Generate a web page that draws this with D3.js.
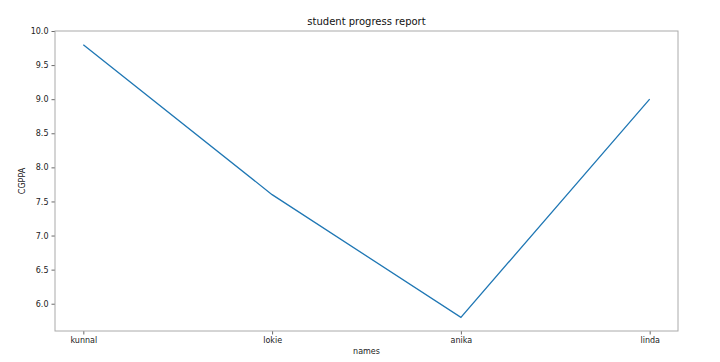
<!DOCTYPE html>
<html>
<head>
<meta charset="utf-8">
<script src="https://cdn.jsdelivr.net/npm/d3@7"></script>
<style>
  body { margin: 0; background: #fff; }
  text { font-family: "DejaVu Sans", sans-serif; }
</style>
</head>
<body>
<div id="canvas"></div>
<script>
// chart data
var names = ['kunnal', 'lokie', 'anika', 'linda'];
var cgpa = [9.8, 7.6, 5.8, 9.0];
var yTicks = [6.0, 6.5, 7.0, 7.5, 8.0, 8.5, 9.0, 9.5, 10.0];

var W = 720, H = 362;
var m = {left: 55, right: 42, top: 31, bottom: 31};

var svg = d3.select('#canvas').append('svg')
  .attr('width', W)
  .attr('height', H);

// matplotlib style 5% margins
var x = d3.scaleLinear().domain([-0.15, 3.15]).range([m.left, W - m.right]);
var y = d3.scaleLinear().domain([5.6, 10.0]).range([H - m.bottom, m.top]);

var xAxis = d3.axisBottom(x)
  .tickValues(d3.range(names.length))
  .tickFormat(function(i){ return names[i]; })
  .tickSize(3.5).tickPadding(3);

var yAxis = d3.axisLeft(y)
  .tickValues(yTicks)
  .tickFormat(d3.format('.1f'))
  .tickSize(3.5).tickPadding(3);

var gx = svg.append('g')
  .attr('transform', 'translate(0,' + (H - m.bottom) + ')')
  .call(xAxis);
var gy = svg.append('g')
  .attr('transform', 'translate(' + m.left + ',0)')
  .call(yAxis);

[gx, gy].forEach(function(g){
  g.select('.domain').remove();
  g.selectAll('.tick line').attr('stroke', '#444').attr('stroke-width', 0.8);
  g.selectAll('.tick text').attr('fill', '#222').style('font-size', '8px');
});

// frame
svg.append('rect')
  .attr('x', m.left).attr('y', m.top)
  .attr('width', W - m.left - m.right)
  .attr('height', H - m.top - m.bottom)
  .attr('fill', 'none')
  .attr('stroke', '#aaa')
  .attr('stroke-width', 1);

var line = d3.line()
  .x(function(d, i){ return x(i); })
  .y(function(d){ return y(d); });

svg.append('path')
  .datum(cgpa)
  .attr('d', line)
  .attr('fill', 'none')
  .attr('stroke', '#1f77b4')
  .attr('stroke-width', 1.3);

// labels
svg.append('text')
  .attr('x', (m.left + W - m.right) / 2).attr('y', 25)
  .attr('text-anchor', 'middle')
  .style('font-size', '10px').attr('fill', '#111')
  .text('student progress report');

svg.append('text')
  .attr('x', (m.left + W - m.right) / 2).attr('y', 354)
  .attr('text-anchor', 'middle')
  .style('font-size', '8px').attr('fill', '#222')
  .text('names');

svg.append('text')
  .attr('transform', 'translate(25,' + ((m.top + H - m.bottom) / 2) + ') rotate(-90)')
  .attr('text-anchor', 'middle')
  .style('font-size', '8px').attr('fill', '#222')
  .text('CGPPA');
</script>
</body>
</html>
